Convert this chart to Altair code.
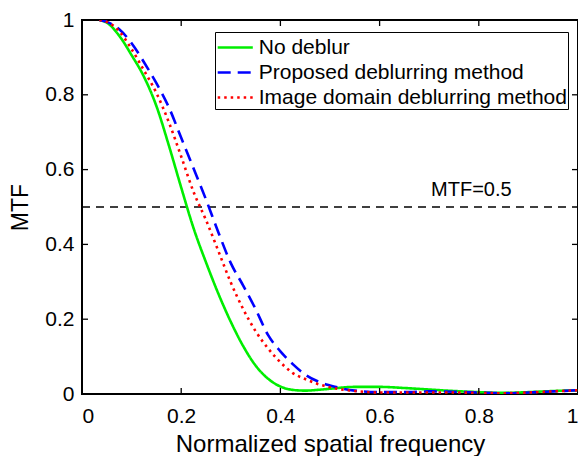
import altair as alt
import pandas as pd

FONT = "Liberation Sans"

series_names = ["No deblur", "Proposed deblurring method", "Image domain deblurring method"]
series_colors = ["#00EE00", "#0000FF", "#FF0000"]
series_dash = [[1, 0], [13, 7], [2.5, 4]]

freq = [0.035, 0.05, 0.075, 0.10, 0.125, 0.15, 0.175, 0.20, 0.225, 0.25, 0.275, 0.30, 0.325, 0.35,
        0.375, 0.40, 0.425, 0.45, 0.475, 0.50, 0.55, 0.60, 0.65, 0.70, 0.75, 0.80, 0.85, 0.90, 0.95, 1.00]

mtf_no_deblur = [1.0, 0.993, 0.958, 0.906, 0.848, 0.77, 0.665, 0.552, 0.443, 0.352, 0.268, 0.193, 0.128, 0.076,
                 0.041, 0.02, 0.011, 0.009, 0.011, 0.014, 0.019, 0.019, 0.016, 0.012, 0.008, 0.005, 0.003,
                 0.005, 0.008, 0.01]
mtf_proposed = [1.0, 0.995, 0.975, 0.938, 0.887, 0.831, 0.767, 0.685, 0.603, 0.52, 0.432, 0.35, 0.29, 0.227,
                0.158, 0.114, 0.08, 0.052, 0.034, 0.023, 0.009, 0.005, 0.005, 0.007, 0.006, 0.004, 0.002,
                0.004, 0.007, 0.01]
mtf_image_domain = [1.0, 0.995, 0.97, 0.922, 0.865, 0.805, 0.727, 0.635, 0.54, 0.465, 0.382, 0.298, 0.227, 0.168,
                    0.122, 0.085, 0.056, 0.04, 0.027, 0.018, 0.008, 0.004, 0.004, 0.004, 0.004, 0.003, 0.002,
                    0.004, 0.007, 0.01]

ticks = [0, 0.2, 0.4, 0.6, 0.8, 1.0]
ref_level = 0.5
ref_label = "MTF=0.5"

rows = []
for name, ys in zip(series_names, [mtf_no_deblur, mtf_proposed, mtf_image_domain]):
    for f, v in zip(freq, ys):
        rows.append({"freq": f, "mtf": v, "series": name})
df = pd.DataFrame(rows)

W, H = 496, 374
xs = alt.Scale(domain=[0, 1], nice=False)
ys = alt.Scale(domain=[0, 1], nice=False)

axis_style = dict(values=ticks, format="~g", tickSize=0, domain=False, grid=False,
                  labelFont=FONT, labelFontSize=21, labelColor="black",
                  titleFont=FONT, titleColor="black", titleFontWeight="normal")

lines = alt.Chart(df).mark_line(strokeWidth=2.6, clip=True, interpolate="monotone").encode(
    x=alt.X("freq:Q", scale=xs, title="Normalized spatial frequency",
            axis=alt.Axis(labelPadding=11, titlePadding=6, titleFontSize=24, **axis_style)),
    y=alt.Y("mtf:Q", scale=ys, title="MTF",
            axis=alt.Axis(labelPadding=8, titlePadding=12, titleFontSize=23, **axis_style)),
    color=alt.Color("series:N", sort=series_names,
                    scale=alt.Scale(domain=series_names, range=series_colors),
                    legend=alt.Legend(title=None, orient="none", legendX=133, legendY=12,
                                      symbolType="M-1.35,0H1.35", symbolSize=676, symbolStrokeWidth=2.6,
                                      labelFontSize=21, labelFont=FONT, labelColor="black",
                                      labelLimit=0,
                                      strokeColor="black", fillColor="white", padding=1,
                                      rowPadding=0, labelOffset=9, symbolOffset=4.75)),
    strokeDash=alt.StrokeDash("series:N", sort=series_names,
                              scale=alt.Scale(domain=series_names, range=series_dash),
                              legend=None),
    order=alt.Order("freq:Q"),
)

ref_df = pd.DataFrame({"level": [ref_level], "label": [ref_label], "lx": [0.785]})
ref_line = alt.Chart(ref_df).mark_rule(color="black", strokeDash=[8, 6], strokeWidth=1.4).encode(
    y=alt.Y("level:Q", scale=ys), x=alt.value(0), x2=alt.value(W))
ref_text = alt.Chart(ref_df).mark_text(font=FONT, fontSize=20, color="black", dy=-17).encode(
    x=alt.X("lx:Q", scale=xs), y=alt.Y("level:Q", scale=ys), text="label:N")

tick_df = pd.DataFrame({"t": ticks})
tb = alt.Chart(tick_df).mark_rule(color="black", strokeWidth=1.3).encode(
    x=alt.X("t:Q", scale=xs), y=alt.value(H), y2=alt.value(H - 6))
tt = alt.Chart(tick_df).mark_rule(color="black", strokeWidth=1.3).encode(
    x=alt.X("t:Q", scale=xs), y=alt.value(0), y2=alt.value(6))
tl = alt.Chart(tick_df).mark_rule(color="black", strokeWidth=1.3).encode(
    y=alt.Y("t:Q", scale=ys), x=alt.value(0), x2=alt.value(6))
tr = alt.Chart(tick_df).mark_rule(color="black", strokeWidth=1.3).encode(
    y=alt.Y("t:Q", scale=ys), x=alt.value(W), x2=alt.value(W - 6))

chart = alt.layer(ref_line, lines, ref_text, tb, tt, tl, tr).properties(
    width=W, height=H,
    background="white",
    autosize=alt.AutoSizeParams(type="none"),
    padding={"left": 74, "top": 12, "right": 0, "bottom": 62},
).configure_view(stroke="black", strokeWidth=2)

chart.save("out.html", embed_options={"renderer": "svg", "actions": False})
